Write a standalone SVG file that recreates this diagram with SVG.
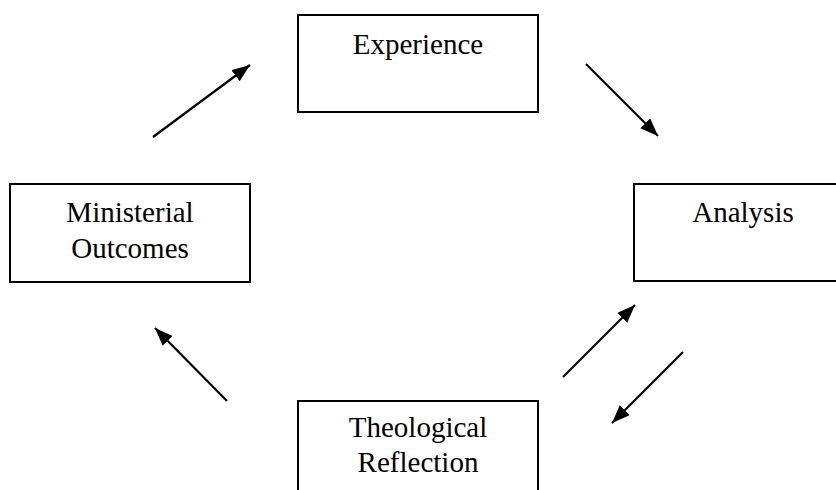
<svg xmlns="http://www.w3.org/2000/svg" width="836" height="490" viewBox="0 0 836 490">
<style>
.box{fill:#fff;stroke:#000;stroke-width:2}
.lbl{font-family:"Liberation Serif","Times New Roman",serif;font-size:29px;fill:#000;text-anchor:middle}
.arr{stroke:#000;stroke-width:2.2;fill:none;marker-end:url(#ah)}
</style>
<defs>
<marker id="ah" markerUnits="userSpaceOnUse" markerWidth="20" markerHeight="16" refX="18" refY="7" orient="auto">
<path d="M0,0 L18,7 L0,14 Z" fill="#000"/>
</marker>
</defs>
<rect width="836" height="490" fill="#fff"/>
<g id="experience">
<rect class="box" x="298" y="15" width="240" height="97"/>
<text class="lbl" x="418" y="54">Experience</text>
</g>
<g id="ministerial-outcomes">
<rect class="box" x="10" y="184" width="240" height="98"/>
<text class="lbl" x="130" y="222">Ministerial</text>
<text class="lbl" x="130" y="258">Outcomes</text>
</g>
<g id="analysis">
<rect class="box" x="634" y="184" width="240" height="97"/>
<text class="lbl" x="743" y="222">Analysis</text>
</g>
<g id="theological-reflection">
<rect class="box" x="298" y="401" width="240" height="98"/>
<text class="lbl" x="418" y="437">Theological</text>
<text class="lbl" x="418" y="472">Reflection</text>
</g>
<g id="connectors">
<line class="arr" x1="153" y1="137" x2="250" y2="65"/>
<line class="arr" x1="586" y1="64" x2="658" y2="136"/>
<line class="arr" x1="563" y1="377" x2="635" y2="305"/>
<line class="arr" x1="683" y1="352" x2="612" y2="423"/>
<line class="arr" x1="227" y1="401" x2="155" y2="328"/>
</g>
</svg>
